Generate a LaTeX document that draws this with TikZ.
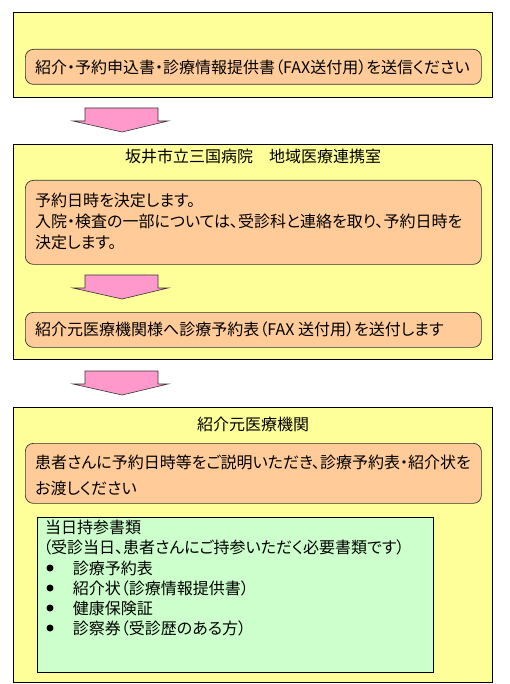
\documentclass[tikz,border=0pt]{standalone}
\usepackage{fontspec}
\setmainfont[RawFeature=+palt]{Noto Sans CJK JP}
\usetikzlibrary{positioning}
\definecolor{pYellow}{RGB}{255,255,153}
\definecolor{pOrange}{RGB}{255,204,153}
\definecolor{pGreen}{RGB}{204,255,204}
\definecolor{pPink}{RGB}{255,153,204}
\tikzset{
    outer/.style={rectangle, draw, line width=0.8pt, fill=pYellow, anchor=north west, inner sep=0pt},
    inner/.style={rectangle, rounded corners=8pt, draw=black!80, line width=0.7pt, fill=pOrange, anchor=north west, inner sep=0pt},
    list/.style={rectangle, draw, line width=0.8pt, fill=pGreen, anchor=north west, inner sep=0pt},
    txt/.style={anchor=west, inner sep=0pt, align=left, font=\fontsize{16}{21}\selectfont},
    ttl/.style={inner sep=0pt, font=\fontsize{16}{21}\selectfont},
    dot/.style={circle, fill=black, inner sep=0pt, minimum size=7pt},
    arrw/.style={draw=black!80, line width=0.6pt, fill=pPink}
}
\newcommand\pinkarrow[2]{%
  \draw[arrw] (#1-37,#2) -- ++(73,0) -- ++(0,13) -- ++(10,0) -- ++(-46,11)
    -- ++(-49,-11) -- ++(12,0) -- cycle;}

\begin{document}
\begin{tikzpicture}[x=1pt,y=-1pt]
\useasboundingbox (0,0) rectangle (510,684);
% step 1
\node[outer, minimum width=479pt, minimum height=85pt] (box1) at (13,12) {};
\node[inner, minimum width=456pt, minimum height=35pt] (req) at (25,49) {};
\node[txt] (reqt) at (35,67) {紹介・予約申込書・診療情報提供書（FAX送付用）を送信ください};
\pinkarrow{122}{108}
% step 2
\node[outer, minimum width=479pt, minimum height=215pt] (box2) at (13,144) {};
\node[ttl] (hosp) at (253,156) {坂井市立三国病院　地域医療連携室};
\node[inner, minimum width=456pt, minimum height=84pt] (fix) at (25,180) {};
\node[txt] (fixt) at (35,221) {予約日時を決定します。\\入院・検査の一部については、受診科と連絡を取り、予約日時を\\決定します。};
\pinkarrow{122}{275}
\node[inner, minimum width=456pt, minimum height=35pt] (send) at (25,312) {};
\node[txt] (sendt) at (35,329) {紹介元医療機関様へ診療予約表（FAX 送付用）を送付します};
\pinkarrow{122}{371}
% step 3
\node[outer, minimum width=479pt, minimum height=275pt] (box3) at (13,407) {};
\node[ttl] (clin) at (253,424) {紹介元医療機関};
\node[inner, minimum width=456pt, minimum height=60pt] (expl) at (25,443) {};
\node[txt, font=\fontsize{16}{26}\selectfont] (explt) at (35,475) {患者さんに予約日時等をご説明いただき、診療予約表・紹介状を\\お渡しください};
\node[list, minimum width=396pt, minimum height=155pt] (docs) at (37,517) {};
\node[txt, font=\fontsize{16}{20}\selectfont] (docst) at (43,538) {\hspace{2pt}当日持参書類\\（受診当日、患者さんにご持参いただく必要書類です）};
\node[dot] (b1) at (50,568) {};
\node[txt, right=19pt of b1] (i1) {診療予約表};
\node[dot] (b2) at (50,588) {};
\node[txt, right=19pt of b2] (i2) {紹介状（診療情報提供書）};
\node[dot] (b3) at (50,608) {};
\node[txt, right=19pt of b3] (i3) {健康保険証};
\node[dot] (b4) at (50,628) {};
\node[txt, right=19pt of b4] (i4) {診察券（受診歴のある方）};
\end{tikzpicture}
\end{document}
